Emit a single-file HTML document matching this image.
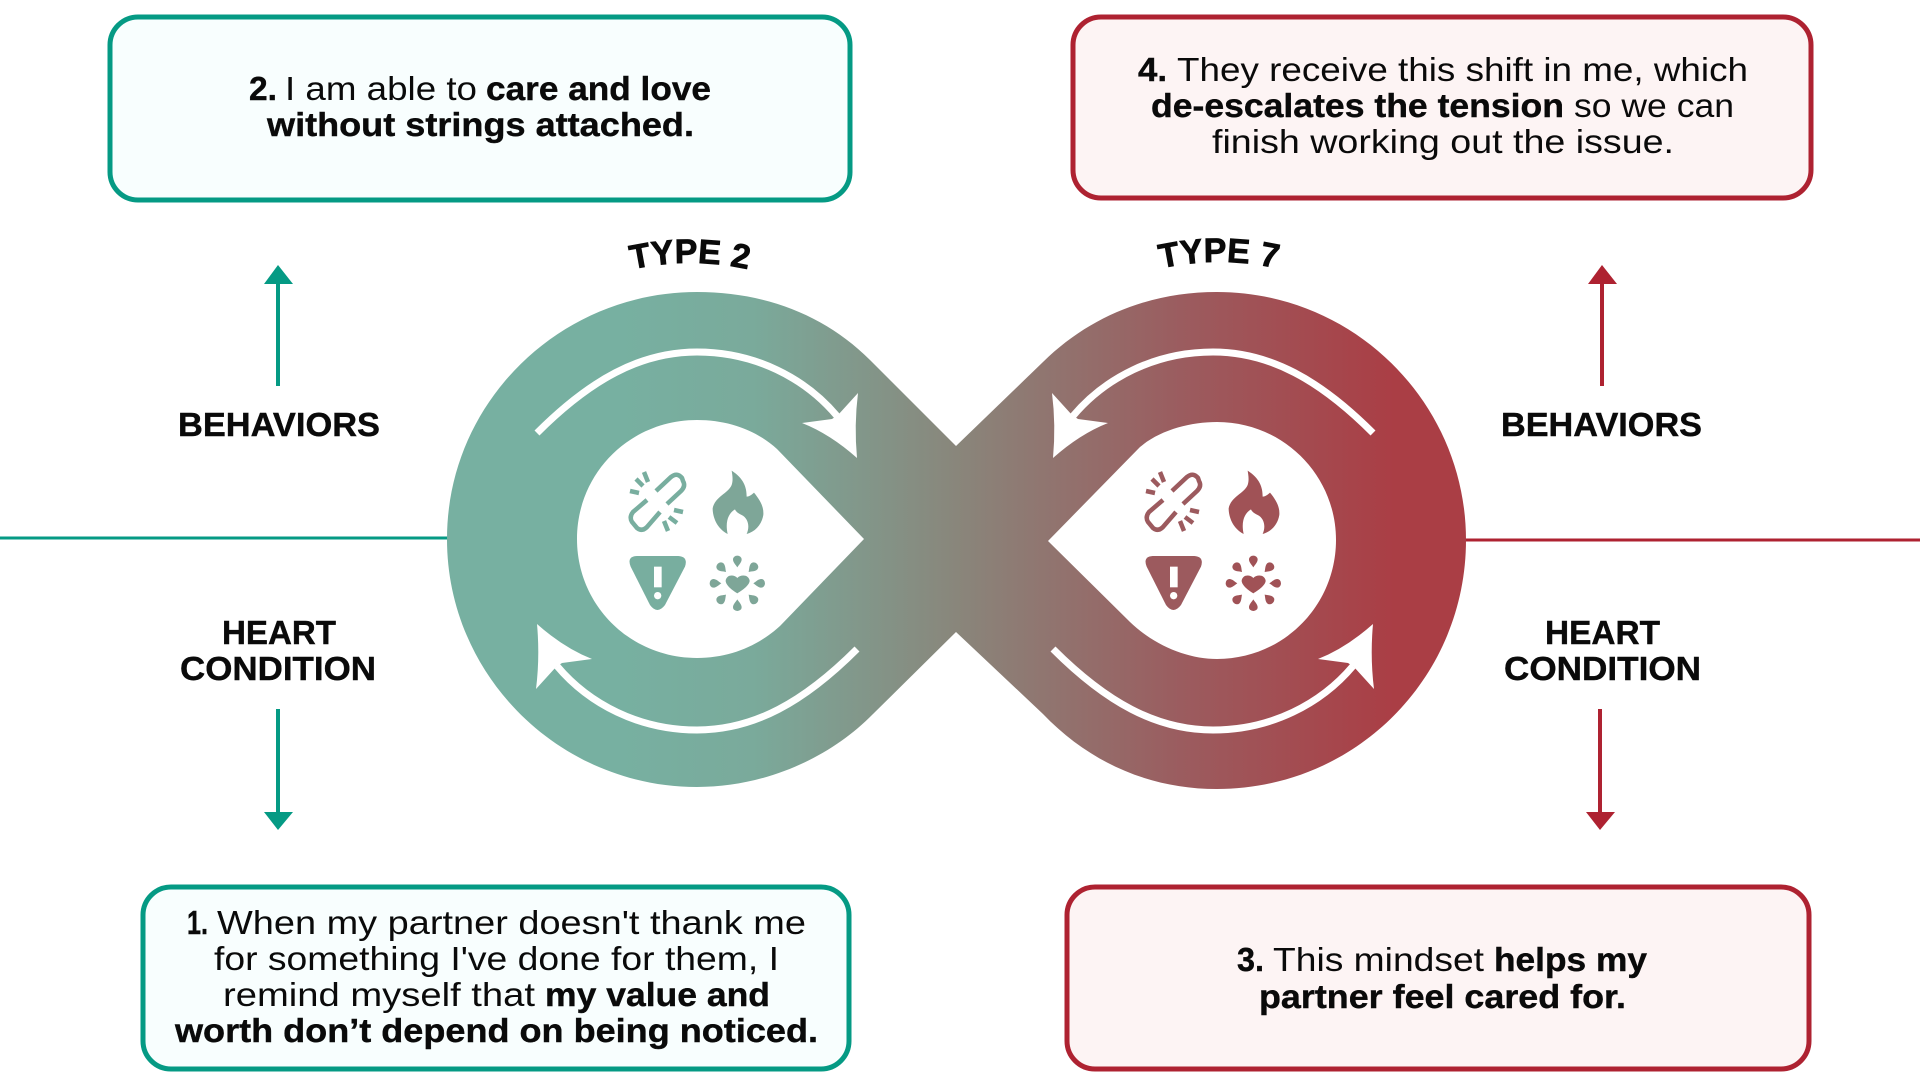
<!DOCTYPE html>
<html><head><meta charset="utf-8"><style>
html,body{margin:0;padding:0;background:#fff;width:1920px;height:1080px;overflow:hidden}
svg{display:block}
text{font-family:"Liberation Sans",sans-serif;font-size:33px;fill:#0a0a0a}
.b{font-weight:700;stroke:#0a0a0a;stroke-width:.4px}
</style></head><body>
<svg width="1920" height="1080" viewBox="0 0 1920 1080" xmlns="http://www.w3.org/2000/svg">
<defs>
<linearGradient id="g" gradientUnits="userSpaceOnUse" x1="447" y1="0" x2="1466" y2="0">
<stop offset="0.17" stop-color="#77b0a1"/><stop offset="0.3" stop-color="#7aaa9b"/><stop offset="0.5" stop-color="#89867b"/><stop offset="0.72" stop-color="#9b5c5f"/><stop offset="0.93" stop-color="#aa3e45"/></linearGradient>
<path id="tc2" d="M625,271 Q690,255 755,271"/>
<path id="tc7" d="M1154,270 Q1219,254 1284,270"/>
<path id="ar" d="M537,433 C590,380 640,352 697,352 C755,352 805,378 837,416" fill="none" stroke="#fff" stroke-width="7"/>
<path id="ah" d="M858,393 Q854,425 857,458 Q830,434 802,423 L832,419 L838,415 Z" fill="#fff"/>
<g id="link" fill="none" stroke-width="4.5" stroke-linecap="butt">
<path d="M656,491 L671,477 Q677,472 682,478 L683,481 Q686,486 681,491 L667,504"/>
<path d="M647,500 L633,512 Q629,517 632,522 L637,528 Q642,532 647,527 L660,512"/>
<path d="M644,472 L648,482 M636,479 L643,486 M630,491 L639,493 M674,510 L683,512 M669,517 L677,523 M664,521 L668,531"/>
</g>
<path id="flame" d="M395,62 C430,85 440,110 440,140 C450,140 460,130 462,128 C480,150 492,170 490,195 C485,225 465,245 440,252 C450,230 445,205 425,195 C415,190 408,185 405,178 C385,190 375,215 383,252 C350,235 338,200 338,175 C345,140 385,130 395,105 C400,90 397,75 395,62 Z" transform="translate(600,450) scale(.3333)"/>
<g id="tri" transform="translate(600,450) scale(.3333)">
<path d="M110,318 H235 Q265,320 255,350 L195,465 Q172,495 150,465 L92,350 Q80,320 110,318 Z"/>
<rect x="162" y="350" width="23" height="62" fill="#fff"/><circle cx="173" cy="437" r="11" fill="#fff"/></g>
<g id="burst" transform="translate(599,450) scale(.3333)">
<path d="M415,430 C398,420 380,405 380,392 C383,373 405,373 415,384 C425,373 449,373 452,392 C452,405 432,420 415,430Z"/>
<g transform="translate(415,400)">
<path id="dr" d="M0,-48 C-5,-56 -13,-63 -13,-72 A13,11 0 0 1 13,-72 C13,-63 5,-56 0,-48 Z"/>
<use href="#dr" transform="rotate(45)"/><use href="#dr" transform="rotate(90)"/><use href="#dr" transform="rotate(135)"/><use href="#dr" transform="rotate(180)"/><use href="#dr" transform="rotate(225)"/><use href="#dr" transform="rotate(270)"/><use href="#dr" transform="rotate(315)"/>
</g></g>
</defs>

<line x1="0" y1="538" x2="450" y2="538" stroke="#059a84" stroke-width="3"/>
<line x1="1463" y1="540" x2="1920" y2="540" stroke="#ae2231" stroke-width="3"/>

<path fill="url(#g)" fill-rule="evenodd" d="M956,446 L870,360 C825,315 765,292 697,292 C560,292 447,402 447,539 C447,676 560,787 697,787 C765,787 830,758 873,714 L956,632 L1043,714 C1090,763 1150,789 1217,789 C1355,789 1466,678 1466,540 C1466,404 1355,292 1217,292 C1150,292 1090,316 1043,362 Z
M864,539 L777,449 C756,430 728,420 697,420 C630,420 577,473 577,539 C577,605 630,658 697,658 C730,658 758,646 780,626 Z
M1048,541 L1140,447 C1160,430 1190,422 1217,422 C1283,422 1336,475 1336,540 C1336,606 1283,659 1217,659 C1188,659 1155,646 1130,622 Z"/>

<use href="#ar"/><use href="#ah"/>
<g transform="rotate(180 697 541)"><use href="#ar"/><use href="#ah"/></g>
<g transform="translate(1910,0) scale(-1,1)"><use href="#ar"/><use href="#ah"/></g>
<g transform="translate(1910,0) scale(-1,1) rotate(180 697 541)"><use href="#ar"/><use href="#ah"/></g>

<use href="#link" stroke="#78ae9f"/><use href="#flame" fill="#7ea698"/><use href="#tri" fill="#78ae9f"/><use href="#burst" fill="#7ea698"/>
<g transform="translate(516,0)"><use href="#link" stroke="#9c5a5e"/><use href="#flame" fill="#a05256"/><use href="#tri" fill="#9c5a5e"/><use href="#burst" fill="#a05256"/></g>

<rect x="110" y="17" width="740" height="183" rx="28" fill="#f8fefe" stroke="#059a84" stroke-width="5"/>
<rect x="1073" y="17" width="738" height="181" rx="28" fill="#fdf4f4" stroke="#ae2231" stroke-width="5"/>
<rect x="143" y="887" width="706" height="182" rx="28" fill="#f8fefe" stroke="#059a84" stroke-width="5"/>
<rect x="1067" y="887" width="742" height="182" rx="28" fill="#fdf4f4" stroke="#ae2231" stroke-width="5"/>

<text class="b" x="249" y="100" textLength="28" lengthAdjust="spacingAndGlyphs">2.</text>
<text x="285" y="100" textLength="192" lengthAdjust="spacingAndGlyphs">I am able to</text>
<text class="b" x="486" y="100" textLength="225" lengthAdjust="spacingAndGlyphs">care and love</text>
<text class="b" x="267" y="136" textLength="427" lengthAdjust="spacingAndGlyphs">without strings attached.</text>

<text class="b" x="1138" y="81" textLength="29" lengthAdjust="spacingAndGlyphs">4.</text>
<text x="1177" y="81" textLength="571" lengthAdjust="spacingAndGlyphs">They receive this shift in me, which</text>
<text class="b" x="1151" y="117" textLength="413" lengthAdjust="spacingAndGlyphs">de-escalates the tension</text>
<text x="1574" y="117" textLength="160" lengthAdjust="spacingAndGlyphs">so we can</text>
<text x="1212" y="153" textLength="462" lengthAdjust="spacingAndGlyphs">finish working out the issue.</text>

<text class="b" x="187" y="934" textLength="21" lengthAdjust="spacingAndGlyphs">1.</text>
<text x="217" y="934" textLength="589" lengthAdjust="spacingAndGlyphs">When my partner doesn't thank me</text>
<text x="214" y="970" textLength="565" lengthAdjust="spacingAndGlyphs">for something I've done for them, I</text>
<text x="223" y="1006" textLength="312" lengthAdjust="spacingAndGlyphs">remind myself that</text>
<text class="b" x="545" y="1006" textLength="225" lengthAdjust="spacingAndGlyphs">my value and</text>
<text class="b" x="175" y="1042" textLength="643" lengthAdjust="spacingAndGlyphs">worth don’t depend on being noticed.</text>

<text class="b" x="1237" y="971" textLength="27" lengthAdjust="spacingAndGlyphs">3.</text>
<text x="1273" y="971" textLength="211" lengthAdjust="spacingAndGlyphs">This mindset</text>
<text class="b" x="1494" y="971" textLength="153" lengthAdjust="spacingAndGlyphs">helps my</text>
<text class="b" x="1259" y="1008" textLength="367" lengthAdjust="spacingAndGlyphs">partner feel cared for.</text>

<text class="b" x="178" y="436" textLength="202" lengthAdjust="spacingAndGlyphs">BEHAVIORS</text>
<text class="b" x="1501" y="436" textLength="201" lengthAdjust="spacingAndGlyphs">BEHAVIORS</text>
<text class="b" x="222" y="644" textLength="114" lengthAdjust="spacingAndGlyphs">HEART</text>
<text class="b" x="180" y="680" textLength="196" lengthAdjust="spacingAndGlyphs">CONDITION</text>
<text class="b" x="1545" y="644" textLength="115" lengthAdjust="spacingAndGlyphs">HEART</text>
<text class="b" x="1504" y="680" textLength="197" lengthAdjust="spacingAndGlyphs">CONDITION</text>

<text class="b" style="font-size:34px;stroke-width:.8px"><textPath href="#tc2" startOffset="50%" text-anchor="middle">TYPE 2</textPath></text>
<text class="b" style="font-size:34px;stroke-width:.8px"><textPath href="#tc7" startOffset="50%" text-anchor="middle">TYPE 7</textPath></text>

<g stroke-width="4">
<line x1="278" y1="283" x2="278" y2="386" stroke="#059a84"/>
<polygon points="264,284 293,284 278,265" fill="#059a84"/>
<line x1="278" y1="709" x2="278" y2="813" stroke="#059a84"/>
<polygon points="264,812 293,812 278,830" fill="#059a84"/>
<line x1="1602" y1="283" x2="1602" y2="386" stroke="#ae2231"/>
<polygon points="1588,284 1617,284 1602,265" fill="#ae2231"/>
<line x1="1600" y1="709" x2="1600" y2="813" stroke="#ae2231"/>
<polygon points="1586,812 1615,812 1600,830" fill="#ae2231"/>
</g>
</svg>
</body></html>
